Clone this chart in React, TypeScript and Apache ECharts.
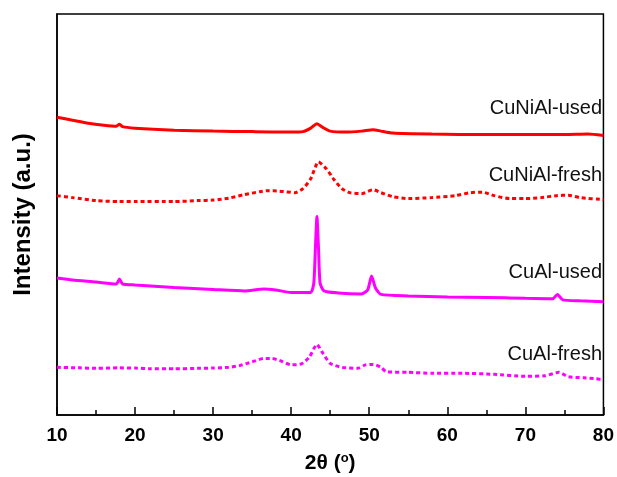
import React, { useEffect, useRef } from "react";
import * as echarts from "echarts";

// 2θ (degrees) vs intensity (a.u., vertically offset traces)
const cuNiAlUsed: [number, number][] = [
  [10, 300], [12, 297], [14, 294], [16, 292], [17.6, 291], [18.0, 293], [18.4, 290.5],
  [20, 289], [25, 287], [30, 286], [35, 285.5], [40, 285], [41.5, 285.5], [42.5, 289],
  [43.3, 293.5], [44.0, 290], [45, 286], [47, 285], [49, 286], [50.5, 287.5], [51.5, 286],
  [53, 284], [58, 283], [65, 282.5], [70, 282.5], [75, 282.5], [78, 283], [80, 281.5],
];

const cuNiAlFresh: [number, number][] = [
  [10, 221], [12, 219], [15, 216], [18, 215], [20, 215], [25, 215], [28, 216], [30, 216.5],
  [32, 218.5], [34, 222], [36, 225], [37, 226], [38.5, 225.5], [40.5, 224], [41.5, 228],
  [42.5, 238], [43.5, 255], [44.5, 248], [45.5, 237], [46.5, 228], [47.5, 224], [49, 223],
  [50.5, 227], [51.5, 224], [53, 220], [55, 218], [58, 219], [61, 221], [63, 224],
  [64.5, 224.5], [66, 221], [68, 218], [70, 218], [72, 219], [74, 221], [75.5, 221.5],
  [77, 219], [80, 217],
];

const cuAlUsed: [number, number][] = [
  [10, 138], [12, 136], [15, 134], [17.6, 132], [18.0, 137], [18.4, 132], [20, 131],
  [25, 128.5], [30, 126.5], [34, 125], [36.5, 127], [38, 126], [40, 123.5], [42.5, 123.5],
  [42.9, 133], [43.1, 168], [43.3, 200], [43.5, 168], [43.7, 133], [44.2, 125], [46, 123],
  [49, 122], [49.8, 126], [50.3, 140], [50.8, 128], [51.5, 121.5], [55, 120], [60, 119],
  [65, 118.5], [70, 117.5], [73.5, 117], [74.1, 121.5], [74.8, 116], [77, 115], [80, 114],
];

const cuAlFresh: [number, number][] = [
  [10, 48], [13, 47.5], [15, 47], [18, 47.5], [20, 47.3], [22, 46.5], [25, 46.5], [28, 47],
  [30, 47.3], [32, 48], [33.5, 50], [35, 53.5], [36.5, 57], [37.5, 57], [38.5, 55],
  [40, 50.5], [41.3, 51.5], [42.3, 58], [43.3, 71], [44.0, 63], [45, 52], [46.5, 48],
  [48.5, 47], [49.5, 50.5], [50.5, 51], [51.5, 48], [52.2, 43.5], [55, 43], [58, 42],
  [62, 42], [66, 41], [70, 39], [72.5, 39.5], [74.3, 43], [75.5, 38.5], [77.5, 37.5],
  [79, 36.5], [80, 35.5],
];

const xTicks = [10, 20, 30, 40, 50, 60, 70, 80];

const seriesNames = ["CuNiAl-used", "CuNiAl-fresh", "CuAl-used", "CuAl-fresh"];

const RED = "#ff0000";
const MAGENTA = "#ff00ff";
const FONT = "Liberation Sans, Arial, sans-serif";

export default function App() {
  const ref = useRef<HTMLDivElement>(null);

  useEffect(() => {
    if (!ref.current) return;
    const chart = echarts.init(ref.current, undefined, { renderer: "svg" });

    const line = (name: string, data: [number, number][], color: string, dashed: boolean) => ({
      name,
      type: "line",
      data,
      showSymbol: false,
      symbol: "none",
      smooth: 0.2,
      lineStyle: { color, width: 3, type: dashed ? [4, 3] : "solid" },
    });

    const label = (text: string, y: number) => ({
      type: "text",
      right: 15,
      top: y,
      style: { text, fill: "#111", font: `20px ${FONT}` },
    });

    chart.setOption({
      animation: false,
      grid: {
        left: 57,
        right: 11,
        top: 14,
        bottom: 59,
        show: true,
        borderColor: "#000",
        borderWidth: 1.5,
      },
      xAxis: {
        type: "value",
        min: 10,
        max: 80,
        interval: 10,
        name: "2θ ({sup|o})",
        nameLocation: "middle",
        nameGap: 36,
        nameTextStyle: {
          fontFamily: FONT,
          fontSize: 21,
          fontWeight: "bold",
          color: "#000",
          rich: {
            sup: {
              fontSize: 13,
              fontWeight: "bold",
              verticalAlign: "top",
              padding: [0, 0, 8, 0],
              fontFamily: FONT,
              color: "#000",
            },
          },
        },
        axisLine: { show: true, lineStyle: { color: "#000", width: 1.5 } },
        axisTick: { show: true, inside: true, length: 8, lineStyle: { color: "#000", width: 1.5 } },
        minorTick: { show: true, splitNumber: 2, length: 5, lineStyle: { color: "#000", width: 1.5 } },
        axisLabel: {
          margin: 10,
          fontFamily: FONT,
          fontSize: 19,
          fontWeight: "bold",
          color: "#000",
          customValues: xTicks,
        },
        splitLine: { show: false },
      },
      yAxis: {
        type: "value",
        min: 0,
        max: 404,
        name: "Intensity (a.u.)",
        nameLocation: "middle",
        nameGap: 24,
        nameTextStyle: { fontFamily: FONT, fontSize: 24, fontWeight: "bold", color: "#000" },
        axisLine: { show: true, lineStyle: { color: "#000", width: 1.5 } },
        axisTick: { show: false },
        axisLabel: { show: false },
        splitLine: { show: false },
      },
      series: [
        line(seriesNames[0], cuNiAlUsed, RED, false),
        line(seriesNames[1], cuNiAlFresh, RED, true),
        line(seriesNames[2], cuAlUsed, MAGENTA, false),
        line(seriesNames[3], cuAlFresh, MAGENTA, true),
      ],
      graphic: [
        label(seriesNames[0], 97),
        label(seriesNames[1], 164),
        label(seriesNames[2], 261),
        label(seriesNames[3], 343),
      ],
    });

    return () => chart.dispose();
  }, []);

  return (
    <div
      ref={ref}
      style={{ position: "fixed", left: 0, top: 0, width: 617, height: 477 }}
    />
  );
}
